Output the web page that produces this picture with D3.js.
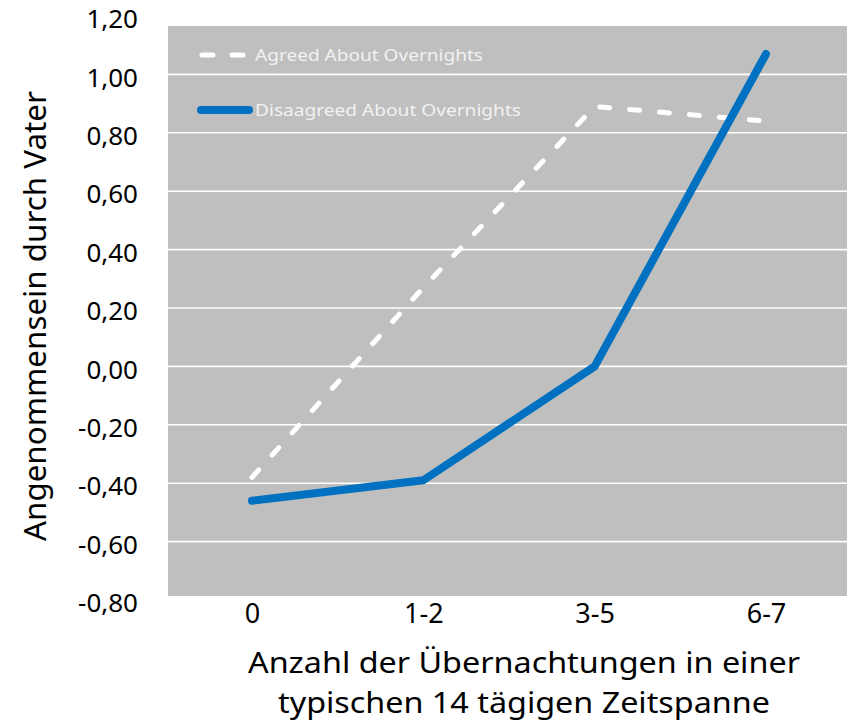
<!DOCTYPE html>
<html>
<head>
<meta charset="utf-8">
<script src="https://cdn.jsdelivr.net/npm/d3@7"></script>
<style>
  body { margin: 0; background: #fff; }
  text { font-family: "Noto Sans", sans-serif; }
</style>
</head>
<body>
<div id="chart"></div>
<script>
// categories and series
const categories = ["0", "1-2", "3-5", "6-7"];
const agreed = [-0.38, 0.27, 0.89, 0.84];
const disagreed = [-0.46, -0.39, 0.00, 1.07];
const yTicks = [-0.8, -0.6, -0.4, -0.2, 0, 0.2, 0.4, 0.6, 0.8, 1.0, 1.2];
const seriesNames = ["Agreed About Overnights", "Disaagreed About Overnights"];

const width = 847, height = 721;
const plot = { left: 168, top: 26, right: 847, bottom: 596 };

const svg = d3.select("#chart").append("svg")
    .attr("width", width)
    .attr("height", height);

const x = d3.scalePoint().domain(categories).range([252, 766]);
const y = d3.scaleLinear().domain([-0.8, 1.2]).range([600, 16]);

// gray plot background
svg.append("rect")
    .attr("x", plot.left)
    .attr("y", plot.top)
    .attr("width", plot.right - plot.left)
    .attr("height", plot.bottom - plot.top)
    .attr("fill", "#bfbfbf");

// horizontal gridlines inside the gray area
svg.append("g")
    .selectAll("line")
    .data(yTicks.filter(d => y(d) > plot.top && y(d) < plot.bottom))
    .join("line")
    .attr("x1", plot.left)
    .attr("x2", plot.right)
    .attr("y1", d => y(d))
    .attr("y2", d => y(d))
    .attr("stroke", "#fff")
    .attr("stroke-width", 1.6);

// y axis labels (German decimal comma)
const fmt = d => d3.format(".2f")(d).replace(".", ",").replace("−", "-");
const yAxis = svg.append("g")
    .attr("transform", "translate(138,0)")
    .call(d3.axisLeft(y).tickValues(yTicks).tickFormat(fmt).tickSize(0).tickPadding(0));
yAxis.select(".domain").remove();
yAxis.selectAll("text")
    .attr("dy", "0.45em")
    .attr("font-size", 26)
    .attr("font-family", "Noto Sans, sans-serif")
    .attr("fill", "#000");

// x axis labels
const xAxis = svg.append("g")
    .attr("transform", "translate(0,600)")
    .call(d3.axisBottom(x).tickSize(0).tickPadding(4));
xAxis.select(".domain").remove();
xAxis.selectAll("text")
    .attr("font-size", 27)
    .attr("font-family", "Noto Sans, sans-serif")
    .attr("fill", "#000");

// axis titles
svg.append("text")
    .attr("transform", "translate(46,316) rotate(-90)")
    .attr("text-anchor", "middle")
    .attr("font-size", 30)
    .attr("textLength", 450)
    .attr("lengthAdjust", "spacingAndGlyphs")
    .text("Angenommensein durch Vater");

svg.append("text")
    .attr("x", 524)
    .attr("y", 673)
    .attr("text-anchor", "middle")
    .attr("font-size", 29)
    .attr("textLength", 552)
    .attr("lengthAdjust", "spacingAndGlyphs")
    .text("Anzahl der Übernachtungen in einer");

svg.append("text")
    .attr("x", 524)
    .attr("y", 713)
    .attr("text-anchor", "middle")
    .attr("font-size", 29)
    .attr("textLength", 492)
    .attr("lengthAdjust", "spacingAndGlyphs")
    .text("typischen 14 tägigen Zeitspanne");

const line = d3.line()
    .x((d, i) => x(categories[i]))
    .y(d => y(d));

// agreed: white dashed
svg.append("path")
    .datum(agreed)
    .attr("d", line)
    .attr("fill", "none")
    .attr("stroke", "#fff")
    .attr("stroke-width", 5)
    .attr("stroke-linecap", "round")
    .attr("stroke-linejoin", "round")
    .attr("stroke-dasharray", "10,20");

// disagreed: thick blue
svg.append("path")
    .datum(disagreed)
    .attr("d", line)
    .attr("fill", "none")
    .attr("stroke", "#0070c0")
    .attr("stroke-width", 8)
    .attr("stroke-linecap", "round")
    .attr("stroke-linejoin", "round");

// legend
const legend = svg.append("g");
legend.append("line")
    .attr("x1", 202).attr("x2", 247)
    .attr("y1", 55).attr("y2", 55)
    .attr("stroke", "#fff")
    .attr("stroke-width", 5)
    .attr("stroke-linecap", "round")
    .attr("stroke-dasharray", "11,19");
legend.append("text")
    .attr("x", 255).attr("y", 61)
    .attr("font-family", "DejaVu Sans, sans-serif")
    .attr("font-size", 16)
    .attr("fill", "#f2f2f2")
    .attr("textLength", 228)
    .attr("lengthAdjust", "spacingAndGlyphs")
    .text(seriesNames[0]);

legend.append("line")
    .attr("x1", 201).attr("x2", 249)
    .attr("y1", 110).attr("y2", 110)
    .attr("stroke", "#0070c0")
    .attr("stroke-width", 8)
    .attr("stroke-linecap", "round");
legend.append("text")
    .attr("x", 255).attr("y", 116)
    .attr("font-family", "DejaVu Sans, sans-serif")
    .attr("font-size", 16)
    .attr("fill", "#f2f2f2")
    .attr("textLength", 266)
    .attr("lengthAdjust", "spacingAndGlyphs")
    .text(seriesNames[1]);
</script>
</body>
</html>
